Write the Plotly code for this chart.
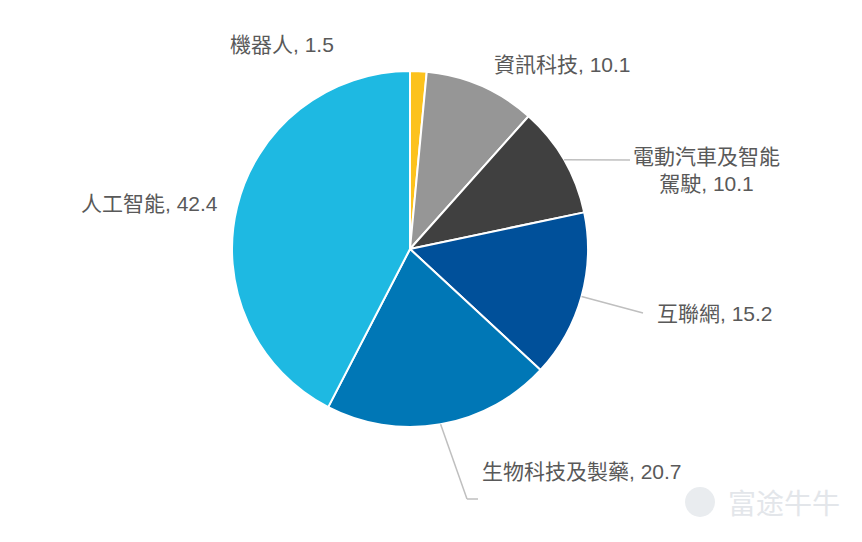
import math
import plotly.graph_objects as go

categories = ["機器人", "資訊科技", "電動汽車及智能<br>駕駛", "互聯網", "生物科技及製藥", "人工智能"]
values = [1.5, 10.1, 10.1, 15.2, 20.7, 42.4]
colors = ["#FCC21D", "#969696", "#404040", "#00509A", "#0077B6", "#1EB9E2"]

W, H = 862, 542
CX, CY, R = 410, 249, 178
L, T = CX - R, CY - R
ml, mt = L, T
mr, mb = W - (CX + R), H - (CY + R)


def px2paper(x, y):
    return (x - L) / (2 * R), (CY + R - y) / (2 * R)


fig = go.Figure(go.Pie(
    labels=categories, values=values, sort=False, direction="clockwise", rotation=0,
    marker=dict(colors=colors, line=dict(color="white", width=2)),
    textinfo="none", hoverinfo="label+value", showlegend=False,
))

# label positions (pixels) and leader line waypoints
label_pos = {
    0: (282, 45, None),
    1: (562, 64, None),
    2: (706, 170, [(630, 160)]),
    3: (715, 313, [(643, 313)]),
    4: (582, 471, [(467, 499), (478, 499)]),
    5: (149, 203, None),
}

total = sum(values)
cum = 0.0
annotations = []
shapes = []
for i, (cat, v) in enumerate(zip(categories, values)):
    mid = (cum + v / 2) / total * 2 * math.pi
    cum += v
    x, y, leader = label_pos[i]
    px, py = px2paper(x, y)
    annotations.append(dict(
        x=px, y=py, xref="paper", yref="paper", showarrow=False,
        xanchor="center", yanchor="middle",
        text=f"{cat}, {v}", align="center",
        font=dict(size=21, color="#595959", family="Liberation Sans, Noto Sans CJK TC, sans-serif"),
    ))
    if leader:
        sx = CX + R * math.sin(mid)
        sy = CY - R * math.cos(mid)
        pts = [(sx, sy)] + leader
        for (x0, y0), (x1, y1) in zip(pts[:-1], pts[1:]):
            a0 = px2paper(x0, y0)
            a1 = px2paper(x1, y1)
            shapes.append(dict(type="line", xref="paper", yref="paper",
                               x0=a0[0], y0=a0[1], x1=a1[0], y1=a1[1],
                               line=dict(color="#BFBFBF", width=1.5)))

# watermark
wx, wy = px2paper(784, 502)
annotations.append(dict(x=wx, y=wy, xref="paper", yref="paper", showarrow=False,
                        xanchor="center", yanchor="middle",
                        text="富途牛牛", font=dict(size=28, color="#E3E6EA", family="Noto Sans CJK SC")))
c0 = px2paper(685, 487)
c1 = px2paper(715, 517)
shapes.append(dict(type="circle", xref="paper", yref="paper", x0=c0[0], y0=c0[1], x1=c1[0], y1=c1[1],
                   fillcolor="#E9ECEF", line=dict(width=0)))

fig.update_layout(
    width=W, height=H, margin=dict(l=ml, r=mr, t=mt, b=mb),
    paper_bgcolor="white", plot_bgcolor="white",
    annotations=annotations, shapes=shapes,
)
fig.write_html("out.html")
